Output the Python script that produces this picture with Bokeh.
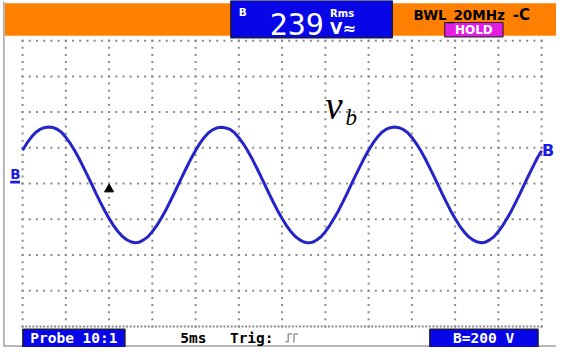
import numpy as np
from bokeh.plotting import figure
from bokeh.models import Range1d, Label
from bokeh.embed import file_html
from bokeh.resources import INLINE

sample_interval_ms = 0.5
# channel B trace, volts, one sample every 0.5 ms from t = 0 to 60 ms
trace_v = [
    186, 226, 259, 286, 303, 313, 316, 314, 304, 287,
    259, 226, 186, 143, 95, 46, -5, -56, -105, -152,
    -195, -234, -267, -294, -313, -326, -331, -328, -315, -297,
    -269, -236, -197, -154, -106, -57, -6, 45, 94, 142,
    185, 225, 258, 285, 302, 312, 315, 311, 303, 285,
    257, 224, 185, 142, 94, 45, -6, -57, -106, -153,
    -196, -235, -268, -295, -314, -327, -332, -329, -316, -298,
    -269, -235, -196, -153, -105, -56, -5, 46, 95, 143,
    186, 226, 259, 286, 303, 313, 316, 313, 303, 286,
    258, 225, 186, 143, 95, 46, -5, -56, -105, -153,
    -196, -235, -268, -295, -314, -326, -331, -328, -315, -297,
    -268, -235, -196, -153, -105, -56, -5, 46, 95, 143,
    184,
]
time_per_div_ms = 5
volts_per_div = 200
n_div_x = 12
n_div_y = 8
trigger_time_ms = [10.0]
trigger_level_v = [-32.0]

rms_reading = "239"
probe_text = "Probe 10:1"
timebase_text = "5ms"
trig_text = "Trig:"
range_text = "B=200 V"
bw_text = "BWL_20MHz"
hold_text = "HOLD"
trace_label_main = "v"
trace_label_sub = "b"

# ---------------- geometry ----------------
FIG_W, FIG_H = 556, 347
REF_W, REF_H = 572, 363
KX, KY = FIG_W / REF_W, FIG_H / REF_H
# graticule edges in reference pixels
GL, GR, GT, GB = 22.7 * KX, 556.7 * KX, 42.0 * KY, 341.0 * KY

x_span = n_div_x * time_per_div_ms
y_half = n_div_y / 2 * volts_per_div
sx = (GR - GL) / x_span
sy = (GB - GT) / (2 * y_half)
x_start = -GL / sx
x_end = x_span + (FIG_W - GR) / sx
y_top = y_half + GT / sy
y_bot = -y_half - (FIG_H - GB) / sy


def RX(rx):
    return x_start + rx * KX / sx


def RY(ry):
    return y_top - ry * KY / sy


p = figure(width=FIG_W, height=FIG_H, output_backend="svg", toolbar_location=None,
           x_range=Range1d(x_start, x_end), y_range=Range1d(y_bot, y_top),
           x_axis_location=None, y_axis_location=None, min_border=0)
p.outline_line_color = None
p.xgrid.visible = False
p.ygrid.visible = False
p.background_fill_color = "white"
p.border_fill_color = "white"

# ---------------- dotted graticule ----------------
gx, gy = [], []
vdots = 5
for i in range(n_div_x + 1):
    for j in range(n_div_y * vdots + 1):
        gx.append(i * time_per_div_ms)
        gy.append(-y_half + j * volts_per_div / vdots)
for k in range(n_div_y + 1):
    per = 12 if k == 0 else 6
    for j in range(n_div_x * per + 1):
        gx.append(j * time_per_div_ms / per)
        gy.append(-y_half + k * volts_per_div)
p.scatter(gx, gy, marker="square", size=2, color="#8a8a8a", line_color=None)

# ---------------- trace ----------------
t = np.arange(len(trace_v)) * sample_interval_ms
p.line(t, trace_v, line_color="#2424c8", line_width=3)

# trigger marker
p.scatter(trigger_time_ms, trigger_level_v, marker="triangle", size=9,
          color="black", line_color="black")

# ---------------- frame of the screen ----------------
p.line([RX(3.5), RX(3.5)], [RY(1), RY(362)], line_color="#a0a0a0", line_width=1.5)
p.line([RX(3.5), RX(572)], [RY(361.5), RY(361.5)], line_color="#a0a0a0", line_width=1.5)

# ---------------- top status bar ----------------
BLUE = "#0606e6"
p.quad(left=RX(4.5), right=RX(572), top=RY(3), bottom=RY(37), fill_color="#ff8000", line_color=None)
p.quad(left=RX(237), right=RX(403), top=RY(0), bottom=RY(39), fill_color=BLUE,
       line_color="#1c1c3c", line_width=1.5)
p.quad(left=RX(457), right=RX(517), top=RY(23), bottom=RY(38), fill_color="#e21ee2",
       line_color="#3a1a3a", line_width=1.2)

# bottom status boxes
p.quad(left=RX(23), right=RX(128), top=RY(344), bottom=RY(363), fill_color=BLUE,
       line_color="#1c1c3c", line_width=1.5)
p.quad(left=RX(441.7), right=RX(553), top=RY(344), bottom=RY(363), fill_color=BLUE,
       line_color="#1c1c3c", line_width=1.5)

# left ground marker bar
p.quad(left=RX(10), right=RX(20), top=RY(188.5), bottom=RY(191.5), fill_color="#1a1ae6", line_color=None)

# trigger icon (small grey edge symbol)
p.line([RX(293), RX(296), RX(296), RX(300)], [RY(357), RY(357), RY(349), RY(349)],
       line_color="#9a9a9a", line_width=1.5)
p.line([RX(301), RX(302), RX(302), RX(306)], [RY(357), RY(357), RY(349), RY(349)],
       line_color="#9a9a9a", line_width=1.5)

SANS = "DejaVu Sans"
MONO = "DejaVu Sans Mono"


def lab(rx, ry, text, size, color="black", font=SANS, style="bold", align="left"):
    p.add_layout(Label(x=RX(rx), y=RY(ry), text=text, text_font=font,
                       text_font_size=f"{size}px", text_font_style=style,
                       text_color=color, text_align=align, text_baseline="middle"))


lab(245, 12.5, "B", 10.5, "white")
lab(277, 24.5, rms_reading, 30, "white", font=MONO, style="normal")
lab(339, 13.5, "Rms", 10, "white")
lab(339, 29, "V≈", 16, "white")
lab(425, 15, bw_text, 13.5, "black")
lab(527, 15, "-C", 15, "black")
lab(487, 30.5, hold_text, 12, "white", align="center")

lab(10, 182, "B", 13.5, "#1a1ae6")
lab(557, 156.5, "B", 16, "#1a1ae6")

lab(334, 109.5, trace_label_main, 39, "black", font="Liberation Serif", style="italic")
lab(355, 122, trace_label_sub, 23, "black", font="Liberation Serif", style="italic")

lab(75.5, 353, probe_text, 14.5, "white", font=MONO, align="center")
lab(185, 353, timebase_text, 14.5, "black", font=MONO)
lab(236, 353, trig_text, 14.5, "black", font=MONO)
lab(497, 353, range_text, 14.5, "white", font=MONO, align="center")

open("out.html", "w").write(file_html(p, INLINE))
